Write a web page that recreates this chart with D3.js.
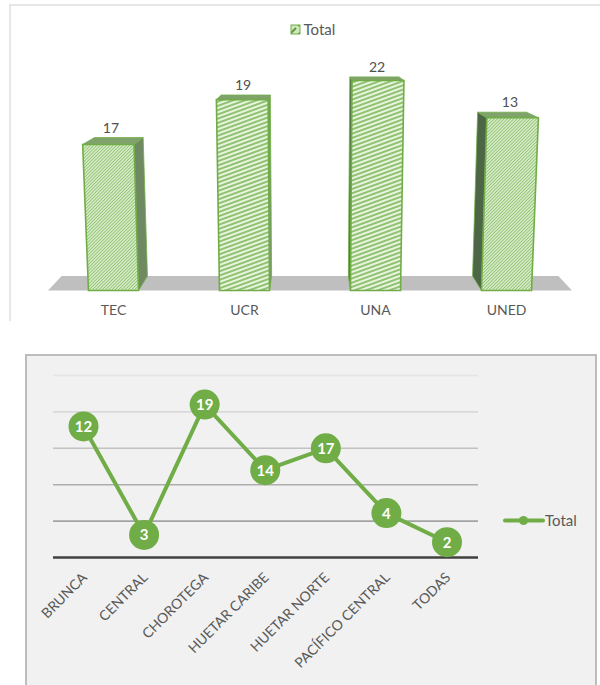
<!DOCTYPE html>
<html><head><meta charset="utf-8">
<script src="https://cdn.jsdelivr.net/npm/d3@7"></script>
<style>html,body{margin:0;padding:0;background:#fff}svg{display:block}text{font-family:Lato,"Open Sans",sans-serif}</style>
</head><body><div id="c"></div>
<script>
const seriesName = "Total";
const barCategories = ["TEC", "UCR", "UNA", "UNED"];
const barLabels = [17, 19, 22, 13];
const barLevels = [15.3, 20, 22, 18.1];
const lineCategories = ["BRUNCA", "CENTRAL", "CHOROTEGA", "HUETAR CARIBE", "HUETAR NORTE", "PACÍFICO CENTRAL", "TODAS"];
const lineLabels = [12, 3, 19, 14, 17, 4, 2];
const lineLevels = [18, 3.1, 21, 12, 15, 6.1, 2.1];
const lineTicks = [0, 5, 10, 15, 20, 25];
const gridColors = ["#404040", "#a3a3a3", "#aeaeae", "#c2c2c2", "#d9d9d9", "#e4e4e4"];
const barHatch = ["fine", "coarse", "coarse", "fine"];
const barSideColor = ["#6f8a63", "#7a9a6a", "#4f7a3f", "#4d6646"];

const svg = d3.select("#c").append("svg").attr("width", 600).attr("height", 685);
const GREEN = "#70ad47", TXT = "#595959";

// hatch patterns
const defs = svg.append("defs");
function hatch(id, w, h, angle, sw, bg, fg) {
  const p = defs.append("pattern").attr("id", id).attr("patternUnits", "userSpaceOnUse")
    .attr("width", w).attr("height", h).attr("patternTransform", `rotate(${angle})`);
  p.append("rect").attr("width", w).attr("height", h).attr("fill", bg);
  p.append("line").attr("x1", 0).attr("x2", w).attr("y1", h / 2).attr("y2", h / 2)
    .attr("stroke", fg).attr("stroke-width", sw);
}
hatch("fine", 6, 2.3, -45, 1.0, "#e2f2d7", "#8cc06b");
hatch("coarse", 6, 4, -20, 1.7, "#e6f5dc", "#82b860");
const ls = defs.append("pattern").attr("id", "legendHatch").attr("patternUnits", "userSpaceOnUse")
  .attr("width", 9).attr("height", 9);
ls.append("rect").attr("width", 9).attr("height", 9).attr("fill", "#cfe8bd");
ls.append("line").attr("x1", 1).attr("y1", 8).attr("x2", 8).attr("y2", 1).attr("stroke", "#5f9a3a").attr("stroke-width", 2);

// ---------- top chart ----------
const upper = svg.append("g");
upper.append("path").attr("d", "M10,321V5H600").attr("fill", "none").attr("stroke", "#dfdfdf").attr("stroke-width", 1.5);

const floorY = 290.5, vpX = 310;
const x1 = d3.scaleBand().domain(barCategories).range([48, 572]).paddingInner(0.618).paddingOuter(0.309);
const y1 = d3.scaleLinear().domain([0, 22]).range([0, 210]);
// simple perspective: height widens away from the vanishing x, depth narrows towards it
const proj = (x, h, d) => {
  const s = (1 + 0.00018 * h) * (1 - 0.052 * d);
  return [vpX + (x - vpX) * s, floorY - h - d * (14.5 - 0.052 * h)];
};
const poly = pts => "M" + pts.map(p => p.join(",")).join("L") + "Z";

upper.append("path").attr("fill", "#bfbfbf").attr("d", poly([
  proj(x1.range()[0], 0, 0), proj(x1.range()[1], 0, 0), proj(x1.range()[1], 0, 1), proj(x1.range()[0], 0, 1)]));

barCategories.forEach((c, i) => {
  const g = upper.append("g");
  const l = x1(c), r = l + x1.bandwidth(), h = y1(barLevels[i]);
  const sideX = (l + r) / 2 < vpX ? r : l;
  g.append("path").attr("d", poly([proj(sideX, h, 0), proj(sideX, h, 1), proj(sideX, 0, 1), proj(sideX, 0, 0)]))
    .attr("fill", barSideColor[i]).attr("stroke", GREEN).attr("stroke-width", 0.8);
  g.append("path").attr("d", poly([proj(l, h, 0), proj(r, h, 0), proj(r, h, 1), proj(l, h, 1)]))
    .attr("fill", "#80a36c").attr("stroke", GREEN).attr("stroke-width", 0.8);
  g.append("path").attr("d", poly([proj(l, 0, 0), proj(r, 0, 0), proj(r, h, 0), proj(l, h, 0)]))
    .attr("fill", `url(#${barHatch[i]})`).attr("stroke", GREEN).attr("stroke-width", 1.6);
  const labelX = proj((l + r) / 2, h, 0.25)[0], labelY = proj((l + r) / 2, h, 1)[1];
  g.append("text").attr("x", labelX).attr("y", labelY - 5).attr("text-anchor", "middle")
    .attr("font-size", 14).attr("fill", "#505050").text(barLabels[i]);
  upper.append("text").attr("x", (l + r) / 2).attr("y", 315).attr("text-anchor", "middle")
    .attr("font-size", 14).attr("fill", TXT).text(c);
});
upper.append("rect").attr("x", 291).attr("y", 25).attr("width", 9).attr("height", 9).attr("fill", "url(#legendHatch)")
  .attr("stroke", GREEN).attr("stroke-width", 1);
upper.append("text").attr("x", 303.5).attr("y", 35).attr("font-size", 15).attr("fill", TXT).text(seriesName);

// ---------- bottom chart ----------
const bot = svg.append("g");
bot.append("rect").attr("x", 26).attr("y", 355).attr("width", 570).attr("height", 340)
  .attr("fill", "#f1f1f1").attr("stroke", "#bdbdbd").attr("stroke-width", 2);

const x2 = d3.scalePoint().domain(lineCategories).range([83.5, 447]);
const y2 = d3.scaleLinear().domain([0, 25]).range([557.5, 375.5]);
const plotL = 53, plotR = 478;
lineTicks.forEach((t, i) => {
  bot.append("line").attr("x1", plotL).attr("x2", plotR).attr("y1", y2(t)).attr("y2", y2(t))
    .attr("stroke", gridColors[i]).attr("stroke-width", t === 0 ? 2.6 : 1.6);
});
const line = d3.line().x((d, i) => x2(lineCategories[i])).y(d => y2(d));
bot.append("path").attr("d", line(lineLevels)).attr("fill", "none").attr("stroke", GREEN)
  .attr("stroke-width", 4).attr("stroke-linejoin", "round");
lineCategories.forEach((c, i) => {
  const cx = x2(c), cy = y2(lineLevels[i]);
  bot.append("circle").attr("cx", cx).attr("cy", cy).attr("r", 15).attr("fill", GREEN);
  bot.append("text").attr("x", cx).attr("y", cy + 5.5).attr("text-anchor", "middle")
    .attr("font-size", 15).attr("font-weight", 700).attr("fill", "#fff").text(lineLabels[i]);
  bot.append("text").attr("transform", `translate(${cx + 1},575) rotate(-45)`).attr("text-anchor", "end")
    .attr("dy", "0.35em").attr("font-size", 14).attr("fill", TXT).text(c);
});
bot.append("line").attr("x1", 505).attr("x2", 543).attr("y1", 520.5).attr("y2", 520.5)
  .attr("stroke", GREEN).attr("stroke-width", 4).attr("stroke-linecap", "round");
bot.append("circle").attr("cx", 523.5).attr("cy", 520.5).attr("r", 4.5).attr("fill", GREEN);
bot.append("text").attr("x", 545).attr("y", 526).attr("font-size", 15).attr("fill", TXT).text(seriesName);
</script></body></html>
